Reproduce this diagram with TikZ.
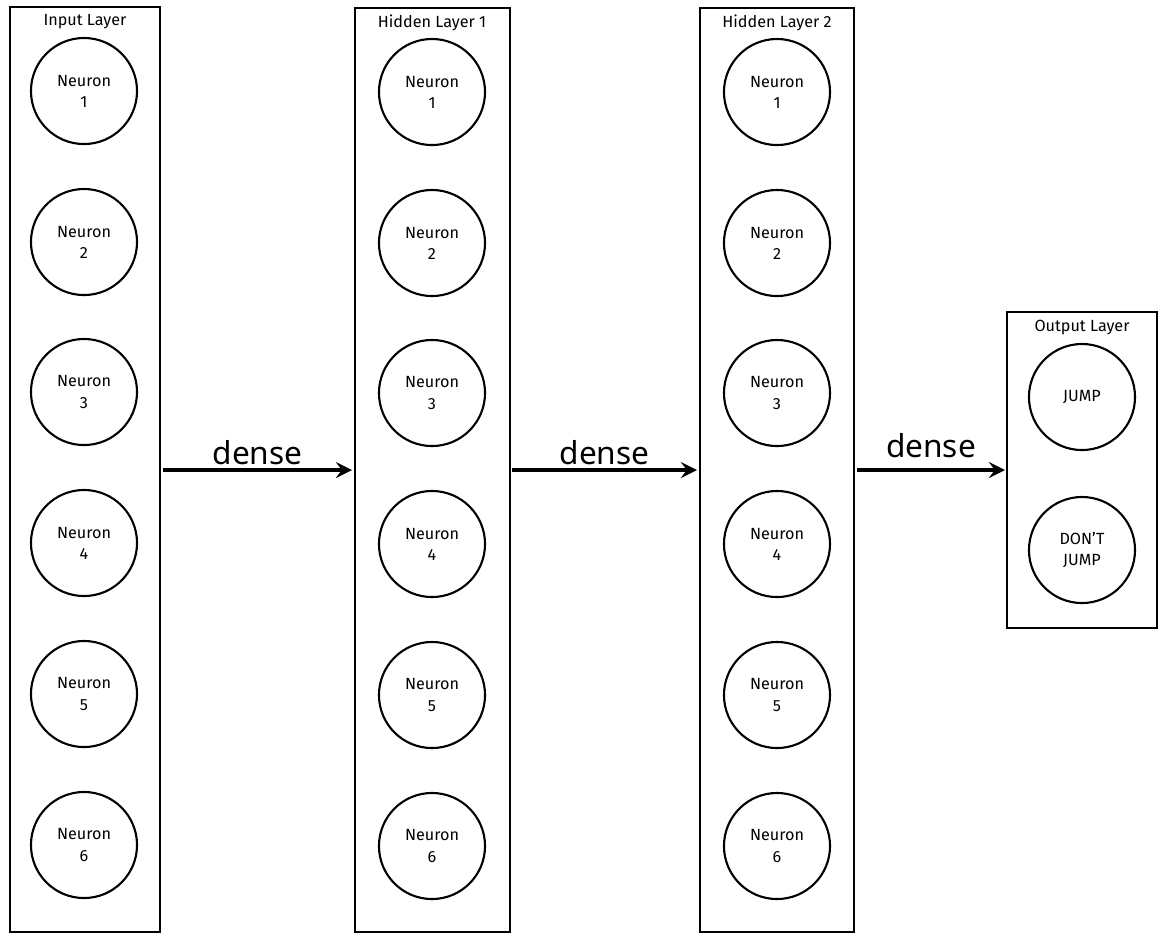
\documentclass[tikz,border=0pt]{standalone}
\usepackage{fontspec}
\setmainfont{Fira Sans}
\newfontfamily\densefont{Noto Sans}
\tikzset{>=stealth}
\tikzset{
    layer/.style={draw, line width=0.5pt},
    neuron/.style={draw, circle, line width=0.6pt, minimum size=1.06cm, inner sep=0pt,
        align=center, font=\fontsize{4.6}{6}\selectfont},
    title/.style={font=\fontsize{4.6}{6}\selectfont},
    dense/.style={line width=1pt, ->},
    lbl/.style={midway, above, inner sep=1pt, font=\densefont\fontsize{9}{11}\selectfont},
}

\begin{document}
\begin{tikzpicture}[x=0.01cm, y=-0.01cm]
    \useasboundingbox (0,0) rectangle (1166,941);
    % layer boxes
    \draw[layer] (10,7) rectangle (160,932);
    \draw[layer] (355,8) rectangle (510,932);
    \draw[layer] (700,8) rectangle (854,932);
    \draw[layer] (1007,312) rectangle (1157,628);
    \node[title] (tin) at (85,22) {Input Layer};
    \node[title] (th1) at (432,23) {Hidden Layer 1};
    \node[title] (th2) at (777,23) {Hidden Layer 2};
    \node[title] (tout) at (1082,328) {Output Layer};
    % neurons
    \foreach \i/\y in {1/91,2/242,3/392,4/543,5/694,6/845}
    {
        \node[neuron] (in\i) at (84,\y) {Neuron\\\i};
        \node[neuron] (ha\i) at (432,\y+1) {Neuron\\\i};
        \node[neuron] (hb\i) at (777,\y+1) {Neuron\\\i};
    }
    \node[neuron] (jump) at (1082,397) {JUMP};
    \node[neuron] (nojump) at (1082,550) {DON'T\\JUMP};
    % connections
    \coordinate (a1) at (163,470);
    \coordinate (a2) at (352,470);
    \coordinate (b1) at (512,470);
    \coordinate (b2) at (697,470);
    \coordinate (c1) at (857,470);
    \coordinate (c2) at (1005,470);
    \draw[dense] (a1) -- (a2) node[lbl] {dense};
    \draw[dense] (b1) -- (b2) node[lbl] {dense};
    \draw[dense] (c1) -- (c2) node[lbl, yshift=2pt] {dense};
\end{tikzpicture}
\end{document}
